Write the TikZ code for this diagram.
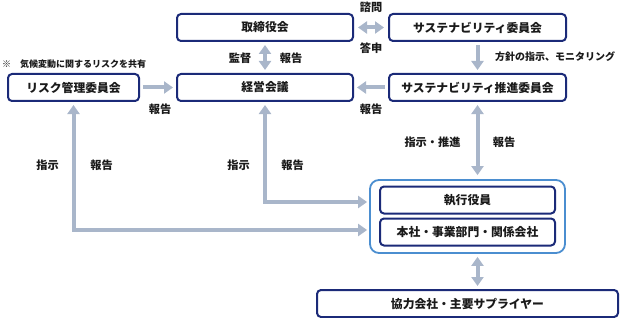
\documentclass[tikz,border=0pt]{standalone}
\usepackage{fontspec}
\setmainfont{Noto Sans CJK JP}
\usetikzlibrary{arrows.meta}
\definecolor{navy}{HTML}{1B2A78}
\definecolor{outerblue}{HTML}{4B8ED0}
\definecolor{arrowgray}{HTML}{A9B6CA}
\definecolor{txt}{HTML}{1A1A1A}
\tikzset{
  box/.style={draw=navy, line width=2pt, rounded corners=4pt, fill=white,
    minimum height=27pt, inner sep=0pt, text=txt,
    font=\fontsize{11.8}{12}\selectfont\bfseries},
  outerbox/.style={draw=outerblue, line width=1.8pt, rounded corners=9pt,
    minimum width=195pt, minimum height=73pt, inner sep=0pt},
  arr/.style={draw=arrowgray, line width=4pt,
    -{Triangle[width=12pt,length=9pt]}},
  darr/.style={draw=arrowgray, line width=4pt,
    {Triangle[width=12pt,length=9pt]}-{Triangle[width=12pt,length=9pt]}},
  lbl/.style={text=txt, inner sep=0pt, font=\fontsize{11.2}{12}\selectfont\bfseries},
}
\begin{document}
\begin{tikzpicture}[x=1pt,y=-1pt]
\useasboundingbox (0,0) rectangle (620,318);
% boxes
\node[box, minimum width=176pt] (tori) at (265,27.5) {取締役会};
\node[box, minimum width=177pt] (sus) at (477.5,27.5) {サステナビリティ委員会};
\node[box, minimum width=176pt] (keiei) at (265,87.5) {経営会議};
\node[box, minimum width=177pt] (suishin) at (477.5,87.5) {サステナビリティ推進委員会};
\node[box, minimum width=131pt] (risk) at (73.5,87.5) {リスク管理委員会};
\node[outerbox] (outer) at (467.5,216.5) {};
\node[box, minimum width=175pt] (shikko) at (467.5,200) {執行役員};
\node[box, minimum width=175pt] (honsha) at (467.5,232) {本社・事業部門・関係会社};
\node[box, minimum width=301pt] (kyo) at (467.5,303.5) {協力会社・主要サプライヤー};
% note
\node[lbl, anchor=west, font=\fontsize{9}{9}\selectfont\bfseries] (note) at (2,64) {※　気候変動に関するリスクを共有};
% arrows
\draw[darr, shorten <=4pt, shorten >=4pt] (tori.east) -- (sus.west);
\draw[darr, shorten <=3pt, shorten >=3pt] (tori.south) -- (keiei.north);
\draw[arr, shorten <=3pt, shorten >=3pt] (sus.south) -- (suishin.north);
\draw[arr, shorten <=3pt, shorten >=3pt] (suishin.west) -- (keiei.east);
\draw[arr, shorten <=3pt, shorten >=3pt] (risk.east) -- (keiei.west);
\draw[darr, shorten <=3pt, shorten >=4pt] (suishin.south) -- (suishin.south |- outer.north);
\draw[darr, shorten <=3pt, shorten >=2pt] (keiei.south) |- ([yshift=-2pt]shikko.west -| outer.west);
\draw[darr, shorten <=3pt, shorten >=2pt] (risk.south) |- ([yshift=2pt]honsha.west -| outer.west);
\draw[darr, shorten <=3pt, shorten >=3pt] (suishin.south |- outer.south) -- (suishin.south |- kyo.north);
% labels
\node[lbl] (l1) at (371,7) {諮問};
\node[lbl] (l2) at (371,48) {答申};
\node[lbl] (l3) at (240,58) {監督};
\node[lbl] (l4) at (291,58) {報告};
\node[lbl, anchor=west, font=\fontsize{10}{10}\selectfont\bfseries] (l5) at (495,57) {方針の指示、モニタリング};
\node[lbl] (l6) at (160,109) {報告};
\node[lbl] (l7) at (371,109) {報告};
\node[lbl] (l8) at (47.5,165.5) {指示};
\node[lbl] (l9) at (101.5,165.5) {報告};
\node[lbl] (l10) at (238.5,165.5) {指示};
\node[lbl] (l11) at (292.5,165.5) {報告};
\node[lbl] (l12) at (432.5,142) {指示・推進};
\node[lbl] (l13) at (504,142) {報告};
\end{tikzpicture}
\end{document}
